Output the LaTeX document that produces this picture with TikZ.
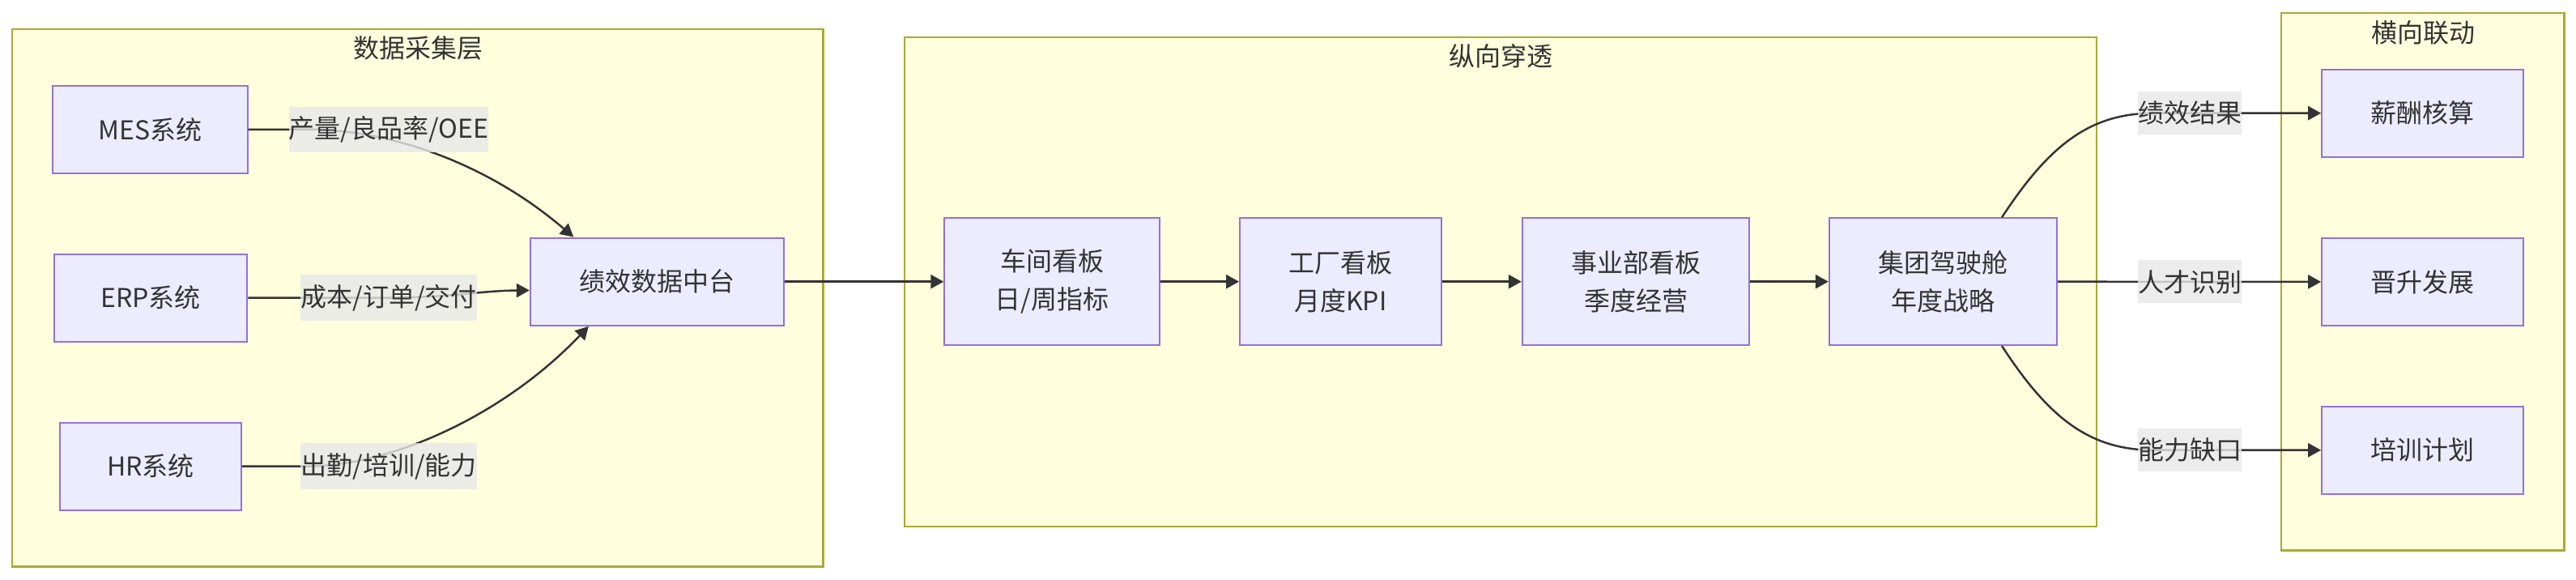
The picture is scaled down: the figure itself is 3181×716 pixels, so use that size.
\documentclass[tikz,border=0pt]{standalone}
\usepackage{fontspec}
\usepackage{xcolor}
\usetikzlibrary{arrows.meta}
\newfontfamily\cjk{Noto Sans CJK SC}
\definecolor{NodeFill}{HTML}{ECECFF}
\definecolor{NodeBorder}{HTML}{9370DB}
\definecolor{ClusterFill}{HTML}{FFFFDE}
\definecolor{ClusterBorder}{HTML}{AAAA33}
\definecolor{LineDark}{HTML}{333333}
\definecolor{LabelBg}{HTML}{E8E8E8}
\definecolor{TextDark}{HTML}{333333}

\begin{document}
\begin{tikzpicture}[
	x=0.01cm, y=-0.01cm, % one unit is one pixel of the sketch, y runs downwards
	% Style for the system boxes
	box/.style={
		rectangle,
		draw=NodeBorder,      % Node border color
		fill=NodeFill,        % Node background color
		text=TextDark,        % Node text color
		line width=0.6pt,
		minimum height=1.08cm,
		align=center,
		font=\cjk\fontsize{9.1pt}{13.3pt}\selectfont
	},
	% Style for the taller dashboard boxes
	tall box/.style={
		box,
		minimum height=1.566cm
	},
	% Style for the group frames
	cluster/.style={
		draw=ClusterBorder,
		fill=ClusterFill,
		line width=0.6pt
	},
	% Style for the group titles
	cluster title/.style={
		text=TextDark,
		inner sep=0pt,
		font=\cjk\fontsize{9.1pt}{13.3pt}\selectfont
	},
	% Style for the connectors
	edge/.style={
		draw=LineDark,
		line width=0.7pt,
		-{Triangle[length=0.16cm, width=0.17cm]}
	},
	% Style for the texts on the connectors
	tag/.style={
		fill=LabelBg,
		fill opacity=0.8,
		text opacity=1,
		text=TextDark,
		inner xsep=0pt,
		minimum height=0.47cm,
		font=\cjk\fontsize{9.1pt}{13.3pt}\selectfont
	}
	]
	
	\fill[white] (0,0) rectangle (3181,716);
	\useasboundingbox (0,0) rectangle (3181,716);
	
	% 1. Group frames
	\draw[cluster] (15.4,35.6) rectangle (1016.5,699.5);
	\draw[cluster] (1116.6,45.7) rectangle (2589,649.8);
	\draw[cluster] (2817.4,16) rectangle (3166.5,679.5);
	\node[cluster title] (collectTitle) at (516,59.4) {数据采集层};
	\node[cluster title] (drillTitle) at (1853,69.4) {纵向穿透};
	\node[cluster title] (linkTitle) at (2992,40.2) {横向联动};
	
	% 2. Boxes
	\node[box, minimum width=2.4cm] (mes) at (185.5,159.8) {MES系统};
	\node[box, minimum width=2.38cm] (erp) at (186.2,367.6) {ERP系统};
	\node[box, minimum width=2.24cm] (hr) at (185.9,575.6) {HR系统};
	\node[box, minimum width=3.126cm] (hub) at (811.3,347.7) {绩效数据中台};
	
	\node[tall box, minimum width=2.65cm] (shop) at (1299,347.7) {车间看板\\日/周指标};
	\node[tall box, minimum width=2.484cm] (plant) at (1655.4,347.7) {工厂看板\\月度KPI};
	\node[tall box, minimum width=2.8cm] (division) at (2020,347.7) {事业部看板\\季度经营};
	\node[tall box, minimum width=2.81cm] (cockpit) at (2399.5,347.7) {集团驾驶舱\\年度战略};
	
	\node[box, minimum width=2.486cm] (pay) at (2991.6,139.7) {薪酬核算};
	\node[box, minimum width=2.486cm] (promo) at (2991.6,347.9) {晋升发展};
	\node[box, minimum width=2.486cm] (train) at (2991.6,555.7) {培训计划};
	
	% 3. Connectors
	\draw[edge] (mes.east) -- (380,159.8) .. controls (480,159.8) and (600,200) .. ([xshift=-1.03cm]hub.north);
	\draw[edge] (erp.east) -- (470,367.6) .. controls (560,367.6) and (590,359) .. ([yshift=-0.107cm]hub.west);
	\draw[edge] (hr.east) -- (380,575.6) .. controls (480,575.6) and (620,515) .. ([xshift=-0.844cm]hub.south);
	
	\draw[edge] (hub.east) -- (shop.west);
	\draw[edge] (shop.east) -- (plant.west);
	\draw[edge] (plant.east) -- (division.west);
	\draw[edge] (division.east) -- (cockpit.west);
	
	\draw[edge] ([xshift=0.725cm]cockpit.north) .. controls (2530,180) and (2580,139.7) .. (2660,139.7) -- (pay.west);
	\draw[edge] (cockpit.east) -- (promo.west);
	\draw[edge] ([xshift=0.725cm]cockpit.south) .. controls (2530,516) and (2580,555.7) .. (2660,555.7) -- (train.west);
	
	% 4. Texts on the connectors
	\node[tag] (tagMes) at (480,159.8) {产量/良品率/OEE};
	\node[tag] (tagErp) at (480,367.6) {成本/订单/交付};
	\node[tag] (tagHr) at (480,575.6) {出勤/培训/能力};
	\node[tag] (tagPay) at (2704,139.7) {绩效结果};
	\node[tag] (tagPromo) at (2704,347.9) {人才识别};
	\node[tag] (tagGap) at (2704,555.7) {能力缺口};
	
\end{tikzpicture}
\end{document}
